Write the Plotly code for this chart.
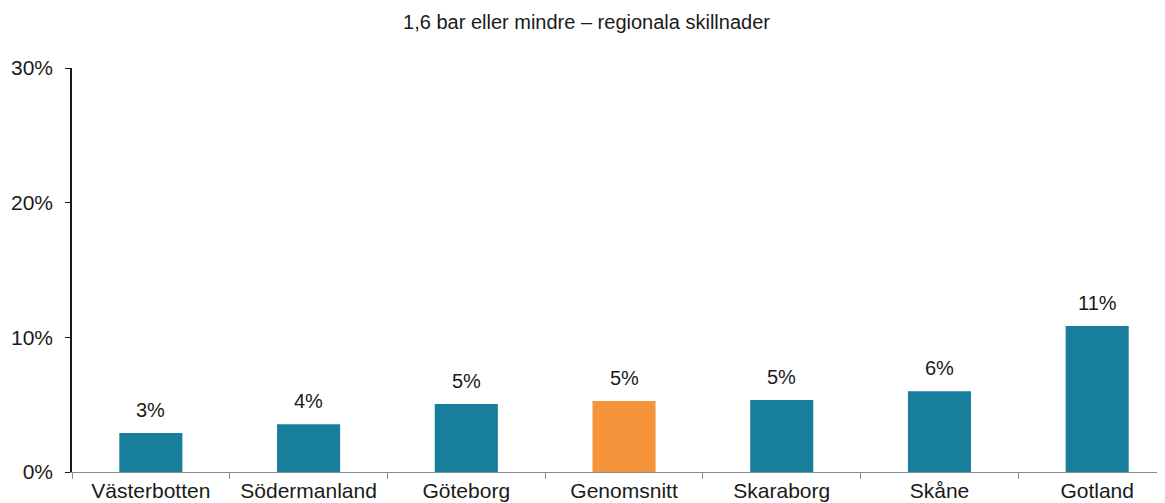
import plotly.graph_objects as go

categories = ["Västerbotten", "Södermanland", "Göteborg", "Genomsnitt", "Skaraborg", "Skåne", "Gotland"]
values = [2.9, 3.55, 5.05, 5.27, 5.35, 6.0, 10.85]
colors = ["#177F9B", "#177F9B", "#177F9B", "#F5943A", "#177F9B", "#177F9B", "#177F9B"]
y_ticks = [0, 10, 20, 30]
y_ticklabels = ["0%", "10%", "20%", "30%"]
title = "1,6 bar eller mindre – regionala skillnader"

FONT = "Liberation Sans, Arial, Helvetica, sans-serif"

fig = go.Figure()
fig.add_trace(go.Bar(
    x=categories, y=values, marker=dict(color=colors, line=dict(width=0)),
    width=0.4, hoverinfo="skip",
))

for c, v in zip(categories, values):
    fig.add_annotation(x=c, y=v, text=f"{v:.0f}%", showarrow=False,
                       yanchor="bottom", yshift=10,
                       font=dict(family=FONT, size=20, color="#1a1a1a"))

# page body has an 8px default margin, so the figure is sized to the visible area
fig.update_layout(
    width=1157, height=495,
    margin=dict(l=64, r=0, t=60, b=31, autoexpand=False),
    paper_bgcolor="white", plot_bgcolor="white",
    showlegend=False,
    title=dict(text=title, x=0.5, xanchor="center", y=0.972, yanchor="middle",
               font=dict(family=FONT, size=20, color="#1a1a1a")),
    font=dict(family=FONT, size=20, color="#1a1a1a"),
)
fig.update_xaxes(
    type="category", range=[-0.5, 6.43], automargin=False,
    showline=True, linecolor="#8c8c8c", linewidth=1,
    tickson="boundaries", ticks="outside", ticklen=6, tickcolor="#8c8c8c",
    showgrid=False, tickfont=dict(family=FONT, size=21, color="#1a1a1a"),
)
fig.update_yaxes(
    range=[0, 30], tickvals=y_ticks, ticktext=y_ticklabels, automargin=False,
    showline=True, linecolor="#1a1a1a", linewidth=1.5,
    ticks="outside", ticklen=5, tickcolor="#1a1a1a", ticklabelstandoff=8,
    showgrid=False, zeroline=False,
    tickfont=dict(family=FONT, size=21, color="#1a1a1a"),
)

fig.write_html("out.html")
